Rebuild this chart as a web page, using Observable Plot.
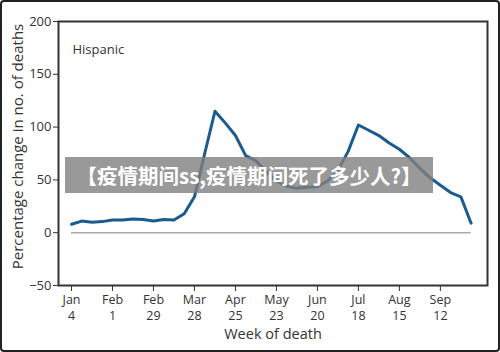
<!DOCTYPE html>
<html>
<head>
<meta charset="utf-8">
<script src="https://cdn.jsdelivr.net/npm/d3@7"></script>
<script src="https://cdn.jsdelivr.net/npm/@observablehq/plot@0.6"></script>
<style>
  html, body { margin: 0; padding: 0; background: #fff; }
  #wrap { position: relative; width: 500px; height: 352px; overflow: hidden; }
  #border { position: absolute; left: 0; top: 0; width: 500px; height: 352px; box-sizing: border-box;
            border: 2px solid #222; border-radius: 4px; pointer-events: none; }
  #banner { position: absolute; left: 65px; top: 157px; width: 368px; height: 36px;
            background: rgba(128,128,128,0.8); color: #fff; font-family: "Noto Sans CJK SC", sans-serif;
            font-weight: bold; font-size: 20.5px; line-height: 36px; text-align: center; white-space: nowrap; }
</style>
</head>
<body>
<div id="wrap">
  <div id="chart"></div>
  <div id="banner">【疫情期间ss,疫情期间死了多少人?】</div>
  <div id="border"></div>
</div>
<script>
const weeks = [0,1,2,3,4,5,6,7,8,9,10,11,12,13,14,15,16,17,18,19,20,21,22,23,24,25,26,27,28,29,30,31,32,33,34,35,36,37,38,39];
const pctChange = [8,11,10,10.5,12,12,13,12.5,11,12.5,12,18,34,75,115,104,92,73,68,58,49,44,42,43,43.5,49,59,77,102,97,92,85,79,71,61,52,45,38,34,9];
const tickWeeks = [0,4,8,12,16,20,24,28,32,36];
const tickMonths = ["Jan","Feb","Feb","Mar","Apr","May","Jun","Jul","Aug","Sep"];
const tickDays = ["4","1","29","28","25","23","20","18","15","12"];
const yTicks = [-50,0,50,100,150,200];
const seriesName = "Hispanic";
const yLabel = "Percentage change in no. of deaths";
const xLabel = "Week of death";

const data = weeks.map((w, i) => ({week: w, value: pctChange[i]}));

const chart = Plot.plot({
  width: 500,
  height: 352,
  marginLeft: 58,
  marginRight: 13,
  marginTop: 21,
  marginBottom: 67,
  style: {fontFamily: "'Open Sans', sans-serif", fontSize: "13px", color: "#333", background: "transparent"},
  x: {domain: [-1.27, 40.6]},
  y: {domain: [-50, 200]},
  marks: [
    Plot.ruleY([0], {x1: weeks[0], x2: weeks[weeks.length - 1], stroke: "#aaa", strokeWidth: 1.5}),
    Plot.line(data, {x: "week", y: "value", stroke: "#1b5b8e", strokeWidth: 3, strokeLinejoin: "round", strokeLinecap: "round"}),
    Plot.frame({stroke: "#333", strokeWidth: 2}),
    Plot.axisY({ticks: yTicks, tickSize: 5, tickPadding: 2, fontSize: 13, label: null}),
    Plot.axisX({ticks: tickWeeks, tickSize: 6, tickPadding: 4, fontSize: 12.5, tickFormat: (d) => tickMonths[tickWeeks.indexOf(d)], label: null}),
    Plot.axisX({ticks: tickWeeks, tickSize: 0, tickPadding: 26, fontSize: 12.5, tickFormat: (d) => tickDays[tickWeeks.indexOf(d)], label: null}),
    Plot.text([yLabel], {frameAnchor: "left", textAnchor: "middle", rotate: -90, dx: -40, dy: -7, fontSize: 15, fill: "#333"}),
    Plot.text([xLabel], {frameAnchor: "bottom", textAnchor: "middle", dy: 53, fontSize: 14.5, fill: "#333"}),
    Plot.text([seriesName], {frameAnchor: "top-left", dx: 14, dy: 23, textAnchor: "start", fontSize: 13, fill: "#333"})
  ]
});
document.getElementById("chart").appendChild(chart);
</script>
</body>
</html>
